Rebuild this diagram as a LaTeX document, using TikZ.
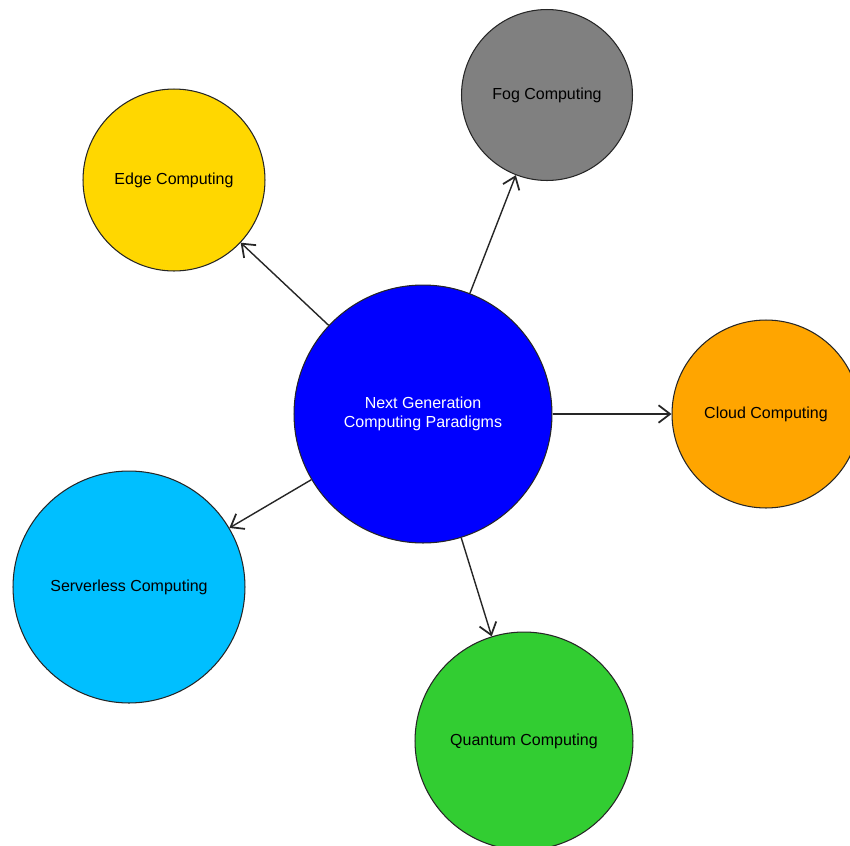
\documentclass[tikz,border=0pt]{standalone}
\usepackage{fontspec}
\setmainfont{Liberation Sans}
\usepackage{xcolor}
\usetikzlibrary{arrows.meta}

\definecolor{hubblue}{HTML}{0000FF}
\definecolor{edgegold}{HTML}{FFD700}
\definecolor{foggray}{HTML}{808080}
\definecolor{cloudorange}{HTML}{FFA500}
\definecolor{serverlesssky}{HTML}{00BFFF}
\definecolor{quantumgreen}{HTML}{32CD32}

\begin{document}
\begin{tikzpicture}[
  x=0.02cm, y=-0.02cm,
  bubble/.style={circle, draw=black!85, line width=0.6pt, align=center, inner sep=0pt,
    font=\fontsize{9.1}{10.9}\selectfont},
  line/.style={-{Straight Barb[length=2.3mm,width=3.5mm,line width=1pt]}, line width=0.8pt, draw=black!85}
]
\useasboundingbox (0,0) rectangle (850,846);

\node[bubble, fill=hubblue, text=white, minimum size=5.16cm] (hub) at (423,414) {Next Generation\\Computing Paradigms};
\node[bubble, fill=edgegold, minimum size=3.64cm] (edge) at (174,180) {Edge Computing};
\node[bubble, fill=foggray, minimum size=3.42cm] (fog) at (547,95) {Fog Computing};
\node[bubble, fill=cloudorange, minimum size=3.76cm] (cloud) at (766,414) {Cloud Computing};
\node[bubble, fill=serverlesssky, minimum size=4.64cm] (serverless) at (129,587) {Serverless Computing};
\node[bubble, fill=quantumgreen, minimum size=4.36cm] (quantum) at (524,741) {Quantum Computing};

\draw[line] (hub) -- (edge);
\draw[line] (hub) -- (fog);
\draw[line] (hub) -- (cloud);
\draw[line] (hub) -- (serverless);
\draw[line] (hub) -- (quantum);
\end{tikzpicture}
\end{document}
